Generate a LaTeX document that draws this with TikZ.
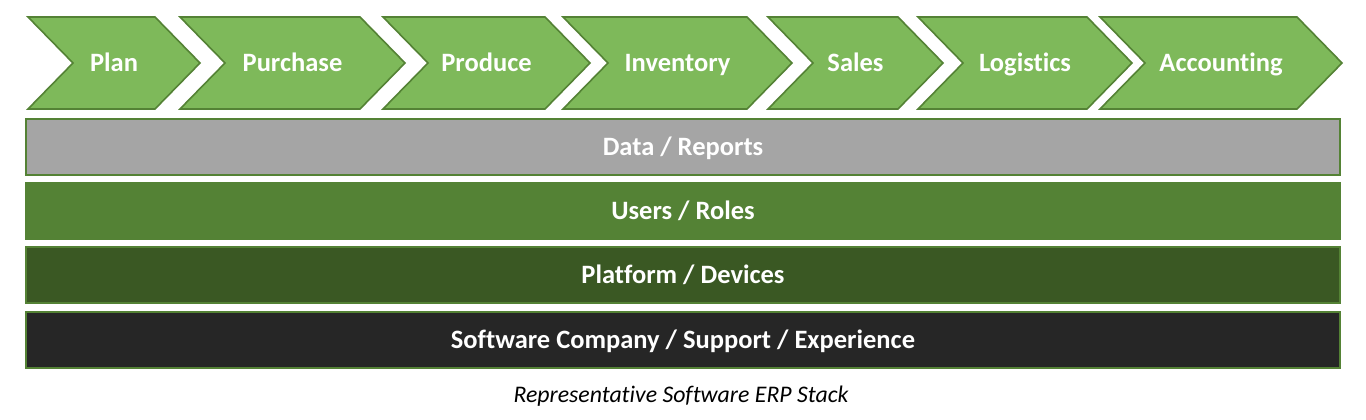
\documentclass[tikz,border=0pt]{standalone}
\usepackage{fontspec}
\setmainfont{Carlito}[Ligatures={NoCommon}]
\definecolor{chevfill}{HTML}{7EB95A}
\definecolor{darkline}{HTML}{548235}
\definecolor{datagray}{HTML}{A5A5A5}
\definecolor{usersgreen}{HTML}{548235}
\definecolor{platgreen}{HTML}{3A5823}
\definecolor{softdark}{HTML}{262626}
\tikzset{
  labelfont/.style={text=white, font=\fontsize{26.5}{30}\selectfont\bfseries, text height=17pt, text depth=0pt},
  chevshape/.style={fill=chevfill, draw=darkline, line width=1.6pt, line join=miter},
  chevlabel/.style={labelfont, inner sep=0pt},
  layerbar/.style={labelfont, draw=darkline, line width=2pt, minimum width=1314pt, minimum height=56pt, inner sep=0pt},
  caption/.style={font=\fontsize{23.8}{28}\selectfont\itshape, text=black, inner sep=0pt, text height=15pt, text depth=0pt}
}
\newcommand{\chevron}[4]{%
  \draw[chevshape] (#1,17) -- ({#2-45},17) -- (#2,63) -- ({#2-45},109) -- (#1,109) -- ({#1+45},63) -- cycle;
  \node[chevlabel] (#4) at ({(#1+#2)/2},63.5) {#3};
}
\begin{document}
\begin{tikzpicture}[x=1pt,y=-1pt]
\useasboundingbox[fill=white] (0,0) rectangle (1366,420);
\chevron{28}{200}{Plan}{plan}
\chevron{180}{405}{Purchase}{purchase}
\chevron{383}{590}{Produce}{produce}
\chevron{563}{792}{Inventory}{inventory}
\chevron{768}{943}{Sales}{sales}
\chevron{918}{1132}{Logistics}{logistics}
\chevron{1100}{1342}{Accounting}{accounting}
\node[layerbar, fill=datagray] (data) at (683,146.5) {Data / Reports};
\node[layerbar, fill=usersgreen, draw=usersgreen] (users) at (683,210.5) {Users / Roles};
\node[layerbar, fill=platgreen] (platform) at (683,275) {Platform / Devices};
\node[layerbar, fill=softdark] (software) at (683,339.5) {Software Company / Support / Experience};
\node[caption] (cap) at (681,395) {Representative Software ERP Stack};
\end{tikzpicture}
\end{document}
